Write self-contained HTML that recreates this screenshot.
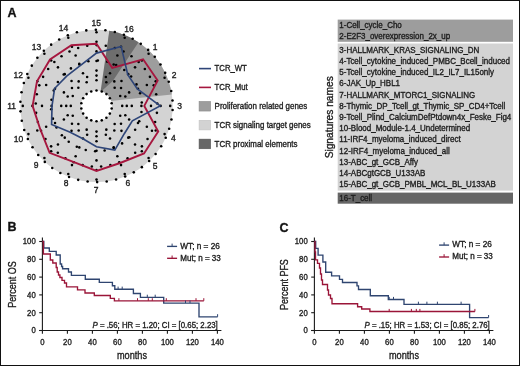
<!DOCTYPE html>
<html><head><meta charset="utf-8"><style>
html,body{margin:0;padding:0;background:#fff;}
body{width:520px;height:366px;overflow:hidden;position:relative;}
.frame{position:absolute;left:0;top:0;width:518px;height:364px;border:1px solid #111;}
svg{filter:blur(0.35px);position:absolute;left:0;top:0;font-family:"Liberation Sans",sans-serif;}
text{stroke:#1e1e1e;stroke-width:0.35px;}
</style></head><body>
<div class="frame"></div>
<svg width="520" height="366" viewBox="0 0 520 366" xmlns="http://www.w3.org/2000/svg">
<circle cx="96.5" cy="105.9" r="76.2" fill="#d3d3d3"/><path d="M100.9,100.0 L109.36,30.79 A76.2,76.2 0 0 1 171.85,94.52 L96.3,102.4 Z" fill="#9d9d9d"/><path d="M100.5,92 L109.36,30.79 A76.2,76.2 0 0 1 138.49,42.31 L112.8,81 Z" fill="#6e6e6e"/><circle cx="96.5" cy="105.9" r="15.5" fill="#fff"/><g fill="#000"><circle cx="95.84" cy="29.70" r="1.28"/><circle cx="105.39" cy="30.22" r="1.28"/><circle cx="114.81" cy="31.93" r="1.28"/><circle cx="123.93" cy="34.81" r="1.28"/><circle cx="132.63" cy="38.81" r="1.28"/><circle cx="140.75" cy="43.86" r="1.28"/><circle cx="148.18" cy="49.90" r="1.28"/><circle cx="154.79" cy="56.82" r="1.28"/><circle cx="160.48" cy="64.51" r="1.28"/><circle cx="165.16" cy="72.86" r="1.28"/><circle cx="168.76" cy="81.72" r="1.28"/><circle cx="171.22" cy="90.97" r="1.28"/><circle cx="172.50" cy="100.45" r="1.28"/><circle cx="172.59" cy="110.02" r="1.28"/><circle cx="171.47" cy="119.52" r="1.28"/><circle cx="169.17" cy="128.81" r="1.28"/><circle cx="165.73" cy="137.74" r="1.28"/><circle cx="161.19" cy="146.17" r="1.28"/><circle cx="155.63" cy="153.96" r="1.28"/><circle cx="149.15" cy="160.99" r="1.28"/><circle cx="141.83" cy="167.15" r="1.28"/><circle cx="133.79" cy="172.35" r="1.28"/><circle cx="125.17" cy="176.50" r="1.28"/><circle cx="116.09" cy="179.54" r="1.28"/><circle cx="106.71" cy="181.41" r="1.28"/><circle cx="97.16" cy="182.10" r="1.28"/><circle cx="87.61" cy="181.58" r="1.28"/><circle cx="78.19" cy="179.87" r="1.28"/><circle cx="69.07" cy="176.99" r="1.28"/><circle cx="60.37" cy="172.99" r="1.28"/><circle cx="52.25" cy="167.94" r="1.28"/><circle cx="44.82" cy="161.90" r="1.28"/><circle cx="38.21" cy="154.98" r="1.28"/><circle cx="32.52" cy="147.29" r="1.28"/><circle cx="27.84" cy="138.94" r="1.28"/><circle cx="24.24" cy="130.08" r="1.28"/><circle cx="21.78" cy="120.83" r="1.28"/><circle cx="20.50" cy="111.35" r="1.28"/><circle cx="20.41" cy="101.78" r="1.28"/><circle cx="21.53" cy="92.28" r="1.28"/><circle cx="23.83" cy="82.99" r="1.28"/><circle cx="27.27" cy="74.06" r="1.28"/><circle cx="31.81" cy="65.63" r="1.28"/><circle cx="37.37" cy="57.84" r="1.28"/><circle cx="43.85" cy="50.81" r="1.28"/><circle cx="51.17" cy="44.65" r="1.28"/><circle cx="59.21" cy="39.45" r="1.28"/><circle cx="67.83" cy="35.30" r="1.28"/><circle cx="76.91" cy="32.26" r="1.28"/><circle cx="86.29" cy="30.39" r="1.28"/><circle cx="96.50" cy="45.10" r="1.28"/><circle cx="105.78" cy="45.81" r="1.28"/><circle cx="114.84" cy="47.93" r="1.28"/><circle cx="123.48" cy="51.41" r="1.28"/><circle cx="131.48" cy="56.17" r="1.28"/><circle cx="138.66" cy="62.09" r="1.28"/><circle cx="144.85" cy="69.04" r="1.28"/><circle cx="149.91" cy="76.85" r="1.28"/><circle cx="153.72" cy="85.35" r="1.28"/><circle cx="156.19" cy="94.32" r="1.28"/><circle cx="157.26" cy="103.57" r="1.28"/><circle cx="156.90" cy="112.87" r="1.28"/><circle cx="155.13" cy="122.01" r="1.28"/><circle cx="151.98" cy="130.77" r="1.28"/><circle cx="147.53" cy="138.95" r="1.28"/><circle cx="141.89" cy="146.35" r="1.28"/><circle cx="135.18" cy="152.81" r="1.28"/><circle cx="127.57" cy="158.16" r="1.28"/><circle cx="119.23" cy="162.29" r="1.28"/><circle cx="110.35" cy="165.10" r="1.28"/><circle cx="101.15" cy="166.52" r="1.28"/><circle cx="91.85" cy="166.52" r="1.28"/><circle cx="82.65" cy="165.10" r="1.28"/><circle cx="73.77" cy="162.29" r="1.28"/><circle cx="65.43" cy="158.16" r="1.28"/><circle cx="57.82" cy="152.81" r="1.28"/><circle cx="51.11" cy="146.35" r="1.28"/><circle cx="45.47" cy="138.95" r="1.28"/><circle cx="41.02" cy="130.77" r="1.28"/><circle cx="37.87" cy="122.01" r="1.28"/><circle cx="36.10" cy="112.87" r="1.28"/><circle cx="35.74" cy="103.57" r="1.28"/><circle cx="36.81" cy="94.32" r="1.28"/><circle cx="39.28" cy="85.35" r="1.28"/><circle cx="43.09" cy="76.85" r="1.28"/><circle cx="48.15" cy="69.04" r="1.28"/><circle cx="54.34" cy="62.09" r="1.28"/><circle cx="61.52" cy="56.17" r="1.28"/><circle cx="69.52" cy="51.41" r="1.28"/><circle cx="78.16" cy="47.93" r="1.28"/><circle cx="87.22" cy="45.81" r="1.28"/><circle cx="97.85" cy="60.52" r="1.28"/><circle cx="107.25" cy="61.79" r="1.28"/><circle cx="116.19" cy="64.99" r="1.28"/><circle cx="124.26" cy="69.98" r="1.28"/><circle cx="131.13" cy="76.54" r="1.28"/><circle cx="136.47" cy="84.38" r="1.28"/><circle cx="140.08" cy="93.16" r="1.28"/><circle cx="141.77" cy="102.50" r="1.28"/><circle cx="141.49" cy="111.98" r="1.28"/><circle cx="139.24" cy="121.20" r="1.28"/><circle cx="135.13" cy="129.76" r="1.28"/><circle cx="129.32" cy="137.27" r="1.28"/><circle cx="122.08" cy="143.40" r="1.28"/><circle cx="113.73" cy="147.90" r="1.28"/><circle cx="104.62" cy="150.57" r="1.28"/><circle cx="95.15" cy="151.28" r="1.28"/><circle cx="85.75" cy="150.01" r="1.28"/><circle cx="76.81" cy="146.81" r="1.28"/><circle cx="68.74" cy="141.82" r="1.28"/><circle cx="61.87" cy="135.26" r="1.28"/><circle cx="56.53" cy="127.42" r="1.28"/><circle cx="52.92" cy="118.64" r="1.28"/><circle cx="51.23" cy="109.30" r="1.28"/><circle cx="51.51" cy="99.82" r="1.28"/><circle cx="53.76" cy="90.60" r="1.28"/><circle cx="57.87" cy="82.04" r="1.28"/><circle cx="63.68" cy="74.53" r="1.28"/><circle cx="70.92" cy="68.40" r="1.28"/><circle cx="79.27" cy="63.90" r="1.28"/><circle cx="88.38" cy="61.23" r="1.28"/><circle cx="96.50" cy="75.60" r="1.28"/><circle cx="105.86" cy="77.08" r="1.28"/><circle cx="114.31" cy="81.39" r="1.28"/><circle cx="121.01" cy="88.09" r="1.28"/><circle cx="125.32" cy="96.54" r="1.28"/><circle cx="126.80" cy="105.90" r="1.28"/><circle cx="125.32" cy="115.26" r="1.28"/><circle cx="121.01" cy="123.71" r="1.28"/><circle cx="114.31" cy="130.41" r="1.28"/><circle cx="105.86" cy="134.72" r="1.28"/><circle cx="96.50" cy="136.20" r="1.28"/><circle cx="87.14" cy="134.72" r="1.28"/><circle cx="78.69" cy="130.41" r="1.28"/><circle cx="71.99" cy="123.71" r="1.28"/><circle cx="67.68" cy="115.26" r="1.28"/><circle cx="66.20" cy="105.90" r="1.28"/><circle cx="67.68" cy="96.54" r="1.28"/><circle cx="71.99" cy="88.09" r="1.28"/><circle cx="78.69" cy="81.39" r="1.28"/><circle cx="87.14" cy="77.08" r="1.28"/><circle cx="96.50" cy="90.50" r="1.28"/><circle cx="101.77" cy="91.43" r="1.28"/><circle cx="106.40" cy="94.10" r="1.28"/><circle cx="109.84" cy="98.20" r="1.28"/><circle cx="111.67" cy="103.23" r="1.28"/><circle cx="111.67" cy="108.57" r="1.28"/><circle cx="109.84" cy="113.60" r="1.28"/><circle cx="106.40" cy="117.70" r="1.28"/><circle cx="101.77" cy="120.37" r="1.28"/><circle cx="96.50" cy="121.30" r="1.28"/><circle cx="91.23" cy="120.37" r="1.28"/><circle cx="86.60" cy="117.70" r="1.28"/><circle cx="83.16" cy="113.60" r="1.28"/><circle cx="81.33" cy="108.57" r="1.28"/><circle cx="81.33" cy="103.23" r="1.28"/><circle cx="83.16" cy="98.20" r="1.28"/><circle cx="86.60" cy="94.10" r="1.28"/><circle cx="91.23" cy="91.43" r="1.28"/><circle cx="96.50" cy="80.20" r="1.28"/><circle cx="96.50" cy="70.60" r="1.28"/><circle cx="96.50" cy="61.00" r="1.28"/><circle cx="96.50" cy="51.40" r="1.28"/><circle cx="96.50" cy="41.80" r="1.28"/><circle cx="96.50" cy="32.20" r="1.28"/><circle cx="106.33" cy="82.16" r="1.28"/><circle cx="110.01" cy="73.29" r="1.28"/><circle cx="113.68" cy="64.42" r="1.28"/><circle cx="117.36" cy="55.55" r="1.28"/><circle cx="121.03" cy="46.68" r="1.28"/><circle cx="124.70" cy="37.81" r="1.28"/><circle cx="114.67" cy="87.73" r="1.28"/><circle cx="121.46" cy="80.94" r="1.28"/><circle cx="128.25" cy="74.15" r="1.28"/><circle cx="135.04" cy="67.36" r="1.28"/><circle cx="141.83" cy="60.57" r="1.28"/><circle cx="148.61" cy="53.79" r="1.28"/><circle cx="120.24" cy="96.07" r="1.28"/><circle cx="129.11" cy="92.39" r="1.28"/><circle cx="137.98" cy="88.72" r="1.28"/><circle cx="146.85" cy="85.04" r="1.28"/><circle cx="155.72" cy="81.37" r="1.28"/><circle cx="164.59" cy="77.70" r="1.28"/><circle cx="122.20" cy="105.90" r="1.28"/><circle cx="131.80" cy="105.90" r="1.28"/><circle cx="141.40" cy="105.90" r="1.28"/><circle cx="151.00" cy="105.90" r="1.28"/><circle cx="160.60" cy="105.90" r="1.28"/><circle cx="170.20" cy="105.90" r="1.28"/><circle cx="120.24" cy="115.73" r="1.28"/><circle cx="129.11" cy="119.41" r="1.28"/><circle cx="137.98" cy="123.08" r="1.28"/><circle cx="146.85" cy="126.76" r="1.28"/><circle cx="155.72" cy="130.43" r="1.28"/><circle cx="164.59" cy="134.10" r="1.28"/><circle cx="114.67" cy="124.07" r="1.28"/><circle cx="121.46" cy="130.86" r="1.28"/><circle cx="128.25" cy="137.65" r="1.28"/><circle cx="135.04" cy="144.44" r="1.28"/><circle cx="141.83" cy="151.23" r="1.28"/><circle cx="148.61" cy="158.01" r="1.28"/><circle cx="106.33" cy="129.64" r="1.28"/><circle cx="110.01" cy="138.51" r="1.28"/><circle cx="113.68" cy="147.38" r="1.28"/><circle cx="117.36" cy="156.25" r="1.28"/><circle cx="121.03" cy="165.12" r="1.28"/><circle cx="124.70" cy="173.99" r="1.28"/><circle cx="96.50" cy="131.60" r="1.28"/><circle cx="96.50" cy="141.20" r="1.28"/><circle cx="96.50" cy="150.80" r="1.28"/><circle cx="96.50" cy="160.40" r="1.28"/><circle cx="96.50" cy="170.00" r="1.28"/><circle cx="96.50" cy="179.60" r="1.28"/><circle cx="86.67" cy="129.64" r="1.28"/><circle cx="82.99" cy="138.51" r="1.28"/><circle cx="79.32" cy="147.38" r="1.28"/><circle cx="75.64" cy="156.25" r="1.28"/><circle cx="71.97" cy="165.12" r="1.28"/><circle cx="68.30" cy="173.99" r="1.28"/><circle cx="78.33" cy="124.07" r="1.28"/><circle cx="71.54" cy="130.86" r="1.28"/><circle cx="64.75" cy="137.65" r="1.28"/><circle cx="57.96" cy="144.44" r="1.28"/><circle cx="51.17" cy="151.23" r="1.28"/><circle cx="44.39" cy="158.01" r="1.28"/><circle cx="72.76" cy="115.73" r="1.28"/><circle cx="63.89" cy="119.41" r="1.28"/><circle cx="55.02" cy="123.08" r="1.28"/><circle cx="46.15" cy="126.76" r="1.28"/><circle cx="37.28" cy="130.43" r="1.28"/><circle cx="28.41" cy="134.10" r="1.28"/><circle cx="70.80" cy="105.90" r="1.28"/><circle cx="61.20" cy="105.90" r="1.28"/><circle cx="51.60" cy="105.90" r="1.28"/><circle cx="42.00" cy="105.90" r="1.28"/><circle cx="32.40" cy="105.90" r="1.28"/><circle cx="22.80" cy="105.90" r="1.28"/><circle cx="72.76" cy="96.07" r="1.28"/><circle cx="63.89" cy="92.39" r="1.28"/><circle cx="55.02" cy="88.72" r="1.28"/><circle cx="46.15" cy="85.04" r="1.28"/><circle cx="37.28" cy="81.37" r="1.28"/><circle cx="28.41" cy="77.70" r="1.28"/><circle cx="78.33" cy="87.73" r="1.28"/><circle cx="71.54" cy="80.94" r="1.28"/><circle cx="64.75" cy="74.15" r="1.28"/><circle cx="57.96" cy="67.36" r="1.28"/><circle cx="51.17" cy="60.57" r="1.28"/><circle cx="44.39" cy="53.79" r="1.28"/><circle cx="86.67" cy="82.16" r="1.28"/><circle cx="82.99" cy="73.29" r="1.28"/><circle cx="79.32" cy="64.42" r="1.28"/><circle cx="75.64" cy="55.55" r="1.28"/><circle cx="71.97" cy="46.68" r="1.28"/><circle cx="68.30" cy="37.81" r="1.28"/></g><polygon points="96.50,43.80 112.27,67.84 143.10,59.30 157.66,80.57 144.30,105.90 158.22,131.46 144.02,153.42 120.15,163.00 96.50,170.90 73.31,161.89 49.62,152.78 40.24,129.21 32.60,105.90 37.00,81.26 50.04,59.44 71.36,45.20" fill="none" stroke="#a6173f" stroke-width="1.9"/><polygon points="96.50,53.10 121.14,46.40 127.75,74.65 137.34,88.99 160.10,105.90 132.35,120.75 124.29,133.69 114.79,150.06 96.50,146.70 82.91,138.70 70.20,132.20 51.60,124.50 52.00,105.90 54.56,88.53 66.66,76.06 79.89,65.80" fill="none" stroke="#2e4578" stroke-width="1.65"/><g fill="#1e1e1e"><text transform="translate(155.00,50.05)" font-size="8.5" text-anchor="middle">1</text><text transform="translate(174.00,77.75)" font-size="8.5" text-anchor="middle">2</text><text transform="translate(179.50,109.35)" font-size="8.5" text-anchor="middle">3</text><text transform="translate(173.35,141.35)" font-size="8.5" text-anchor="middle">4</text><text transform="translate(155.10,168.50)" font-size="8.5" text-anchor="middle">5</text><text transform="translate(127.95,186.25)" font-size="8.5" text-anchor="middle">6</text><text transform="translate(96.00,192.85)" font-size="8.5" text-anchor="middle">7</text><text transform="translate(66.05,186.15)" font-size="8.5" text-anchor="middle">8</text><text transform="translate(36.20,167.80)" font-size="8.5" text-anchor="middle">9</text><text transform="translate(18.45,142.00)" font-size="8.5" text-anchor="middle">10</text><text transform="translate(11.55,109.15)" font-size="8.5" text-anchor="middle">11</text><text transform="translate(18.20,77.75)" font-size="8.5" text-anchor="middle">12</text><text transform="translate(36.40,50.35)" font-size="8.5" text-anchor="middle">13</text><text transform="translate(63.55,31.41)" font-size="8.5" text-anchor="middle">14</text><text transform="translate(96.15,25.80)" font-size="8.5" text-anchor="middle">15</text><text transform="translate(129.00,31.90)" font-size="8.5" text-anchor="middle">16</text></g><g fill="#1e1e1e"><line x1="199" y1="68.6" x2="211" y2="68.6" stroke="#2e4578" stroke-width="1.6"/><line x1="199" y1="87.4" x2="211" y2="87.4" stroke="#a6173f" stroke-width="1.6"/><text transform="translate(214.60,70.80) scale(0.9,1)" font-size="8.6">TCR_WT</text><text transform="translate(214.60,89.60) scale(0.9,1)" font-size="8.6">TCR_Mut</text><rect x="199.1" y="101.45" width="11.5" height="9.6" fill="#9d9d9d" stroke="#8c8c8c" stroke-width="0.6"/><text transform="translate(214.60,108.85) scale(0.924,1)" font-size="8.6">Proliferation related genes</text><rect x="199.1" y="120.30" width="11.5" height="9.6" fill="#d3d3d3" stroke="#c4c4c4" stroke-width="0.6"/><text transform="translate(214.60,127.70) scale(0.924,1)" font-size="8.6">TCR signaling target genes</text><rect x="199.1" y="139.15" width="11.5" height="9.6" fill="#666666" stroke="#555" stroke-width="0.6"/><text transform="translate(214.60,146.55) scale(0.924,1)" font-size="8.6">TCR proximal elements</text></g><g fill="#1e1e1e"><rect x="337.7" y="19.6" width="175.3" height="22.2" fill="#9d9d9d"/><rect x="337.7" y="43.5" width="175.3" height="147.1" fill="#d3d3d3"/><rect x="337.7" y="192.6" width="175.3" height="11.1" fill="#666666"/><text transform="translate(339.30,28.30) scale(0.94,1)" font-size="8.5">1-Cell_cycle_Cho</text><text transform="translate(339.30,39.20) scale(0.94,1)" font-size="8.5">2-E2F3_overexpression_2x_up</text><text transform="translate(339.30,52.60) scale(0.94,1)" font-size="8.5">3-HALLMARK_KRAS_SIGNALING_DN</text><text transform="translate(339.30,63.83) scale(0.94,1)" font-size="8.5">4-Tcell_cytokine_induced_PMBC_Bcell_induced</text><text transform="translate(339.30,75.06) scale(0.94,1)" font-size="8.5">5-Tcell_cytokine_induced_IL2_IL7_IL15only</text><text transform="translate(339.30,86.29) scale(0.94,1)" font-size="8.5">6-JAK_Up_HBL1</text><text transform="translate(339.30,97.52) scale(0.94,1)" font-size="8.5">7-HALLMARK_MTORC1_SIGNALING</text><text transform="translate(339.30,108.75) scale(0.94,1)" font-size="8.5">8-Thymic_DP_Tcell_gt_Thymic_SP_CD4+Tcell</text><text transform="translate(339.30,119.98) scale(0.94,1)" font-size="8.5">9-Tcell_Plind_CalciumDefPtdown4x_Feske_Fig4</text><text transform="translate(339.30,131.21) scale(0.94,1)" font-size="8.5">10-Blood_Module-1.4_Undetermined</text><text transform="translate(339.30,142.44) scale(0.94,1)" font-size="8.5">11-IRF4_myeloma_induced_direct</text><text transform="translate(339.30,153.67) scale(0.94,1)" font-size="8.5">12-IRF4_myeloma_induced_all</text><text transform="translate(339.30,164.90) scale(0.94,1)" font-size="8.5">13-ABC_gt_GCB_Affy</text><text transform="translate(339.30,176.13) scale(0.94,1)" font-size="8.5">14-ABCgtGCB_U133AB</text><text transform="translate(339.30,187.36) scale(0.94,1)" font-size="8.5">15-ABC_gt_GCB_PMBL_MCL_BL_U133AB</text><text transform="translate(339.30,200.60) scale(0.94,1)" font-size="8.5">16-T_cell</text></g><g fill="#1e1e1e"><text transform="translate(333.30,117.30) rotate(-90)" font-size="10.2" text-anchor="middle">Signatures names</text></g><g stroke="#1a1a1a" stroke-width="1.1" fill="none"><line x1="42.4" y1="237.5" x2="42.4" y2="330.5"/><line x1="39.199999999999996" y1="330.5" x2="221.4" y2="330.5"/><line x1="39.199999999999996" y1="330.50" x2="42.4" y2="330.50"/><line x1="39.199999999999996" y1="312.70" x2="42.4" y2="312.70"/><line x1="39.199999999999996" y1="294.90" x2="42.4" y2="294.90"/><line x1="39.199999999999996" y1="277.10" x2="42.4" y2="277.10"/><line x1="39.199999999999996" y1="259.30" x2="42.4" y2="259.30"/><line x1="39.199999999999996" y1="241.50" x2="42.4" y2="241.50"/><line x1="42.40" y1="330.5" x2="42.40" y2="333.7"/><line x1="67.40" y1="330.5" x2="67.40" y2="333.7"/><line x1="92.40" y1="330.5" x2="92.40" y2="333.7"/><line x1="117.40" y1="330.5" x2="117.40" y2="333.7"/><line x1="142.40" y1="330.5" x2="142.40" y2="333.7"/><line x1="167.40" y1="330.5" x2="167.40" y2="333.7"/><line x1="192.40" y1="330.5" x2="192.40" y2="333.7"/><line x1="217.40" y1="330.5" x2="217.40" y2="333.7"/></g><g fill="#1e1e1e"><text transform="translate(35.70,333.30) scale(0.933,1)" font-size="8.3" text-anchor="end">0</text><text transform="translate(35.70,315.50) scale(0.933,1)" font-size="8.3" text-anchor="end">20</text><text transform="translate(35.70,297.70) scale(0.933,1)" font-size="8.3" text-anchor="end">40</text><text transform="translate(35.70,279.90) scale(0.933,1)" font-size="8.3" text-anchor="end">60</text><text transform="translate(35.70,262.10) scale(0.933,1)" font-size="8.3" text-anchor="end">80</text><text transform="translate(35.70,244.30) scale(0.933,1)" font-size="8.3" text-anchor="end">100</text><text transform="translate(42.40,345.00) scale(0.933,1)" font-size="8.3" text-anchor="middle">0</text><text transform="translate(67.40,345.00) scale(0.933,1)" font-size="8.3" text-anchor="middle">20</text><text transform="translate(92.40,345.00) scale(0.933,1)" font-size="8.3" text-anchor="middle">40</text><text transform="translate(117.40,345.00) scale(0.933,1)" font-size="8.3" text-anchor="middle">60</text><text transform="translate(142.40,345.00) scale(0.933,1)" font-size="8.3" text-anchor="middle">80</text><text transform="translate(167.40,345.00) scale(0.933,1)" font-size="8.3" text-anchor="middle">100</text><text transform="translate(192.40,345.00) scale(0.933,1)" font-size="8.3" text-anchor="middle">120</text><text transform="translate(217.40,345.00) scale(0.933,1)" font-size="8.3" text-anchor="middle">140</text></g><path d="M42.4,241.5 H43.8 V248 H49.3 V251.3 H56.2 V255 H60.2 V264 H61.6 V266.5 H62.6 V268.7 H68.5 V272 H71.4 V275.4 H85.3 V279.2 H99.3 V282.3 H112.4 V285.7 H114.8 V289.2 H133.4 V293.5 H140.4 V297.3 H163.7 V303.1 H199 V316.8 H217.6" fill="none" stroke="#2f4570" stroke-width="1.35"/><path d="M42.4,241.5 H43.4 V254 H50.3 V260 H52.8 V263 H56.2 V267.5 H57.2 V272 H58.5 V275 H59.9 V277.5 H62 V280.3 H64.5 V283 H66.5 V286.9 H77.5 V289.8 H85 V293 H94.3 V295.5 H110.3 V298.4 H114.4 V300.8 H203.8" fill="none" stroke="#9a1538" stroke-width="1.35"/><line x1="118.10" y1="289.20" x2="118.10" y2="286.60" stroke="#2f4570" stroke-width="1"/><line x1="122.20" y1="289.20" x2="122.20" y2="286.60" stroke="#2f4570" stroke-width="1"/><line x1="147.30" y1="297.30" x2="147.30" y2="294.70" stroke="#2f4570" stroke-width="1"/><line x1="155.20" y1="297.30" x2="155.20" y2="294.70" stroke="#2f4570" stroke-width="1"/><line x1="185.50" y1="303.10" x2="185.50" y2="300.50" stroke="#2f4570" stroke-width="1"/><line x1="190.00" y1="303.10" x2="190.00" y2="300.50" stroke="#2f4570" stroke-width="1"/><line x1="217.60" y1="316.80" x2="217.60" y2="314.20" stroke="#2f4570" stroke-width="1"/><line x1="118.90" y1="300.80" x2="118.90" y2="298.20" stroke="#9a1538" stroke-width="1"/><line x1="137.50" y1="300.80" x2="137.50" y2="298.20" stroke="#9a1538" stroke-width="1"/><line x1="148.30" y1="300.80" x2="148.30" y2="298.20" stroke="#9a1538" stroke-width="1"/><line x1="152.30" y1="300.80" x2="152.30" y2="298.20" stroke="#9a1538" stroke-width="1"/><line x1="166.30" y1="300.80" x2="166.30" y2="298.20" stroke="#9a1538" stroke-width="1"/><line x1="196.00" y1="300.80" x2="196.00" y2="298.20" stroke="#9a1538" stroke-width="1"/><line x1="203.80" y1="300.80" x2="203.80" y2="298.20" stroke="#9a1538" stroke-width="1"/><line x1="167.1" y1="246.4" x2="177.1" y2="246.4" stroke="#2f4570" stroke-width="1.35"/><line x1="172.1" y1="246.4" x2="172.1" y2="243.6" stroke="#2f4570" stroke-width="1"/><line x1="167.1" y1="258.3" x2="177.1" y2="258.3" stroke="#9a1538" stroke-width="1.35"/><line x1="172.1" y1="258.3" x2="172.1" y2="255.5" stroke="#9a1538" stroke-width="1"/><g fill="#1e1e1e"><text transform="translate(180.30,248.70) scale(0.98,1)" font-size="8.4">WT; n = 26</text><text transform="translate(180.30,260.70) scale(0.96,1)" font-size="8.4">Mut; n = 33</text><text transform="translate(217.80,327.80) scale(0.957,1)" font-size="8.2" text-anchor="end"><tspan font-style="italic">P</tspan> = .56; HR = 1.20; CI = [0.65; 2.23]</text><text transform="translate(132.00,359.10) scale(0.865,1)" font-size="10.6" text-anchor="middle">months</text><text transform="translate(15.90,284.60) rotate(-90) scale(0.84,1)" font-size="10.7" text-anchor="middle">Percent OS</text></g><g stroke="#1a1a1a" stroke-width="1.1" fill="none"><line x1="314.4" y1="237.5" x2="314.4" y2="330.5"/><line x1="311.2" y1="330.5" x2="493.4" y2="330.5"/><line x1="311.2" y1="330.50" x2="314.4" y2="330.50"/><line x1="311.2" y1="312.70" x2="314.4" y2="312.70"/><line x1="311.2" y1="294.90" x2="314.4" y2="294.90"/><line x1="311.2" y1="277.10" x2="314.4" y2="277.10"/><line x1="311.2" y1="259.30" x2="314.4" y2="259.30"/><line x1="311.2" y1="241.50" x2="314.4" y2="241.50"/><line x1="314.40" y1="330.5" x2="314.40" y2="333.7"/><line x1="339.40" y1="330.5" x2="339.40" y2="333.7"/><line x1="364.40" y1="330.5" x2="364.40" y2="333.7"/><line x1="389.40" y1="330.5" x2="389.40" y2="333.7"/><line x1="414.40" y1="330.5" x2="414.40" y2="333.7"/><line x1="439.40" y1="330.5" x2="439.40" y2="333.7"/><line x1="464.40" y1="330.5" x2="464.40" y2="333.7"/><line x1="489.40" y1="330.5" x2="489.40" y2="333.7"/></g><g fill="#1e1e1e"><text transform="translate(307.70,333.30) scale(0.933,1)" font-size="8.3" text-anchor="end">0</text><text transform="translate(307.70,315.50) scale(0.933,1)" font-size="8.3" text-anchor="end">20</text><text transform="translate(307.70,297.70) scale(0.933,1)" font-size="8.3" text-anchor="end">40</text><text transform="translate(307.70,279.90) scale(0.933,1)" font-size="8.3" text-anchor="end">60</text><text transform="translate(307.70,262.10) scale(0.933,1)" font-size="8.3" text-anchor="end">80</text><text transform="translate(307.70,244.30) scale(0.933,1)" font-size="8.3" text-anchor="end">100</text><text transform="translate(314.40,345.00) scale(0.933,1)" font-size="8.3" text-anchor="middle">0</text><text transform="translate(339.40,345.00) scale(0.933,1)" font-size="8.3" text-anchor="middle">20</text><text transform="translate(364.40,345.00) scale(0.933,1)" font-size="8.3" text-anchor="middle">40</text><text transform="translate(389.40,345.00) scale(0.933,1)" font-size="8.3" text-anchor="middle">60</text><text transform="translate(414.40,345.00) scale(0.933,1)" font-size="8.3" text-anchor="middle">80</text><text transform="translate(439.40,345.00) scale(0.933,1)" font-size="8.3" text-anchor="middle">100</text><text transform="translate(464.40,345.00) scale(0.933,1)" font-size="8.3" text-anchor="middle">120</text><text transform="translate(489.40,345.00) scale(0.933,1)" font-size="8.3" text-anchor="middle">140</text></g><path d="M314.40,241.5 H315.70 V248.3 H318.10 V255.1 H322.90 V262 H325.70 V272.2 H331.60 V275.9 H339.50 V279.3 H342.50 V282.5 H357.00 V285.9 H358.50 V289.5 H370.30 V295.7 H388.30 V299.5 H404.00 V304.3 H469.60 V317.6 H488.60" fill="none" stroke="#2f4570" stroke-width="1.35"/><path d="M314.40,241.5 H315.00 V252 H315.50 V259.9 H317.50 V263.3 H319.50 V268 H320.50 V274 H321.50 V280 H322.50 V284.5 H327.50 V290 H328.50 V295 H330.50 V298.5 H332.00 V303.7 H357.60 V306.7 H361.70 V309 H369.90 V311.5 H474.90" fill="none" stroke="#9a1538" stroke-width="1.35"/><line x1="389.20" y1="299.50" x2="389.20" y2="296.90" stroke="#2f4570" stroke-width="1"/><line x1="393.50" y1="299.50" x2="393.50" y2="296.90" stroke="#2f4570" stroke-width="1"/><line x1="418.40" y1="304.30" x2="418.40" y2="301.70" stroke="#2f4570" stroke-width="1"/><line x1="426.90" y1="304.30" x2="426.90" y2="301.70" stroke="#2f4570" stroke-width="1"/><line x1="437.40" y1="304.30" x2="437.40" y2="301.70" stroke="#2f4570" stroke-width="1"/><line x1="461.10" y1="304.30" x2="461.10" y2="301.70" stroke="#2f4570" stroke-width="1"/><line x1="488.60" y1="317.60" x2="488.60" y2="315.00" stroke="#2f4570" stroke-width="1"/><line x1="389.20" y1="311.50" x2="389.20" y2="308.90" stroke="#9a1538" stroke-width="1"/><line x1="411.40" y1="311.50" x2="411.40" y2="308.90" stroke="#9a1538" stroke-width="1"/><line x1="416.30" y1="311.50" x2="416.30" y2="308.90" stroke="#9a1538" stroke-width="1"/><line x1="419.90" y1="311.50" x2="419.90" y2="308.90" stroke="#9a1538" stroke-width="1"/><line x1="474.90" y1="311.50" x2="474.90" y2="308.90" stroke="#9a1538" stroke-width="1"/><line x1="439.1" y1="245.1" x2="449.1" y2="245.1" stroke="#2f4570" stroke-width="1.35"/><line x1="444.1" y1="245.1" x2="444.1" y2="242.29999999999998" stroke="#2f4570" stroke-width="1"/><line x1="439.1" y1="257.0" x2="449.1" y2="257.0" stroke="#9a1538" stroke-width="1.35"/><line x1="444.1" y1="257.0" x2="444.1" y2="254.2" stroke="#9a1538" stroke-width="1"/><g fill="#1e1e1e"><text transform="translate(452.30,247.40) scale(0.98,1)" font-size="8.4">WT; n = 26</text><text transform="translate(452.30,259.40) scale(0.96,1)" font-size="8.4">Mut; n = 33</text><text transform="translate(489.80,327.80) scale(0.957,1)" font-size="8.2" text-anchor="end"><tspan font-style="italic">P</tspan> = .15; HR = 1.53; CI = [0.85; 2.76]</text><text transform="translate(404.00,359.10) scale(0.865,1)" font-size="10.6" text-anchor="middle">months</text><text transform="translate(287.90,284.60) rotate(-90) scale(0.84,1)" font-size="10.7" text-anchor="middle">Percent PFS</text></g><g font-weight="bold" fill="#111"><text transform="translate(7.50,16.70)" font-size="12.5">A</text><text transform="translate(7.50,231.30)" font-size="12.5">B</text><text transform="translate(279.50,231.60)" font-size="12.5">C</text></g>
</svg>
</body></html>
